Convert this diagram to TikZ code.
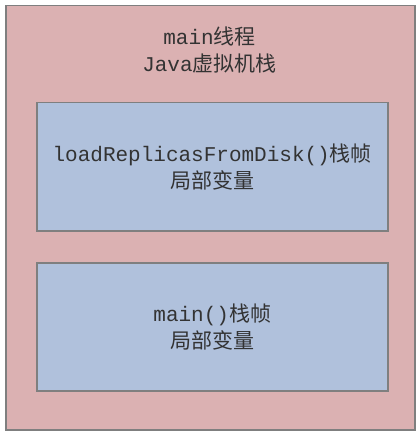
\documentclass[tikz,border=0pt]{standalone}
\usepackage{fontspec}
\setmainfont{Liberation Mono}
\newfontfamily\cjk{Noto Sans CJK SC}
\definecolor{outerfill}{HTML}{DBB1B2}
\definecolor{innerfill}{HTML}{B0C1DC}
\definecolor{edge}{HTML}{7F7F7F}
\definecolor{txt}{HTML}{333333}
\begin{document}
\begin{tikzpicture}[x=1pt,y=-1pt,
  panel/.style={draw=edge,line width=1.5pt,anchor=north west,inner sep=0pt},
  label/.style={text=txt,align=center,font=\fontsize{21}{27}\selectfont}]
\useasboundingbox (0,0) rectangle (418,435);
\node[panel,fill=outerfill,minimum width=409pt,minimum height=424pt] (stack) at (5,5) {};
\node[panel,fill=innerfill,minimum width=351pt,minimum height=128pt] (frameA) at (36,102) {};
\node[panel,fill=innerfill,minimum width=351pt,minimum height=128pt] (frameB) at (36,262) {};
\node[label] (title) at (209.5,50) {main{\cjk 线程}\\Java{\cjk 虚拟机栈}};
\node[label] (textA) at (frameA.center) {loadReplicasFromDisk(){\cjk 栈帧}\\{\cjk 局部变量}};
\node[label] (textB) at (frameB.center) {main(){\cjk 栈帧}\\{\cjk 局部变量}};
\end{tikzpicture}
\end{document}
